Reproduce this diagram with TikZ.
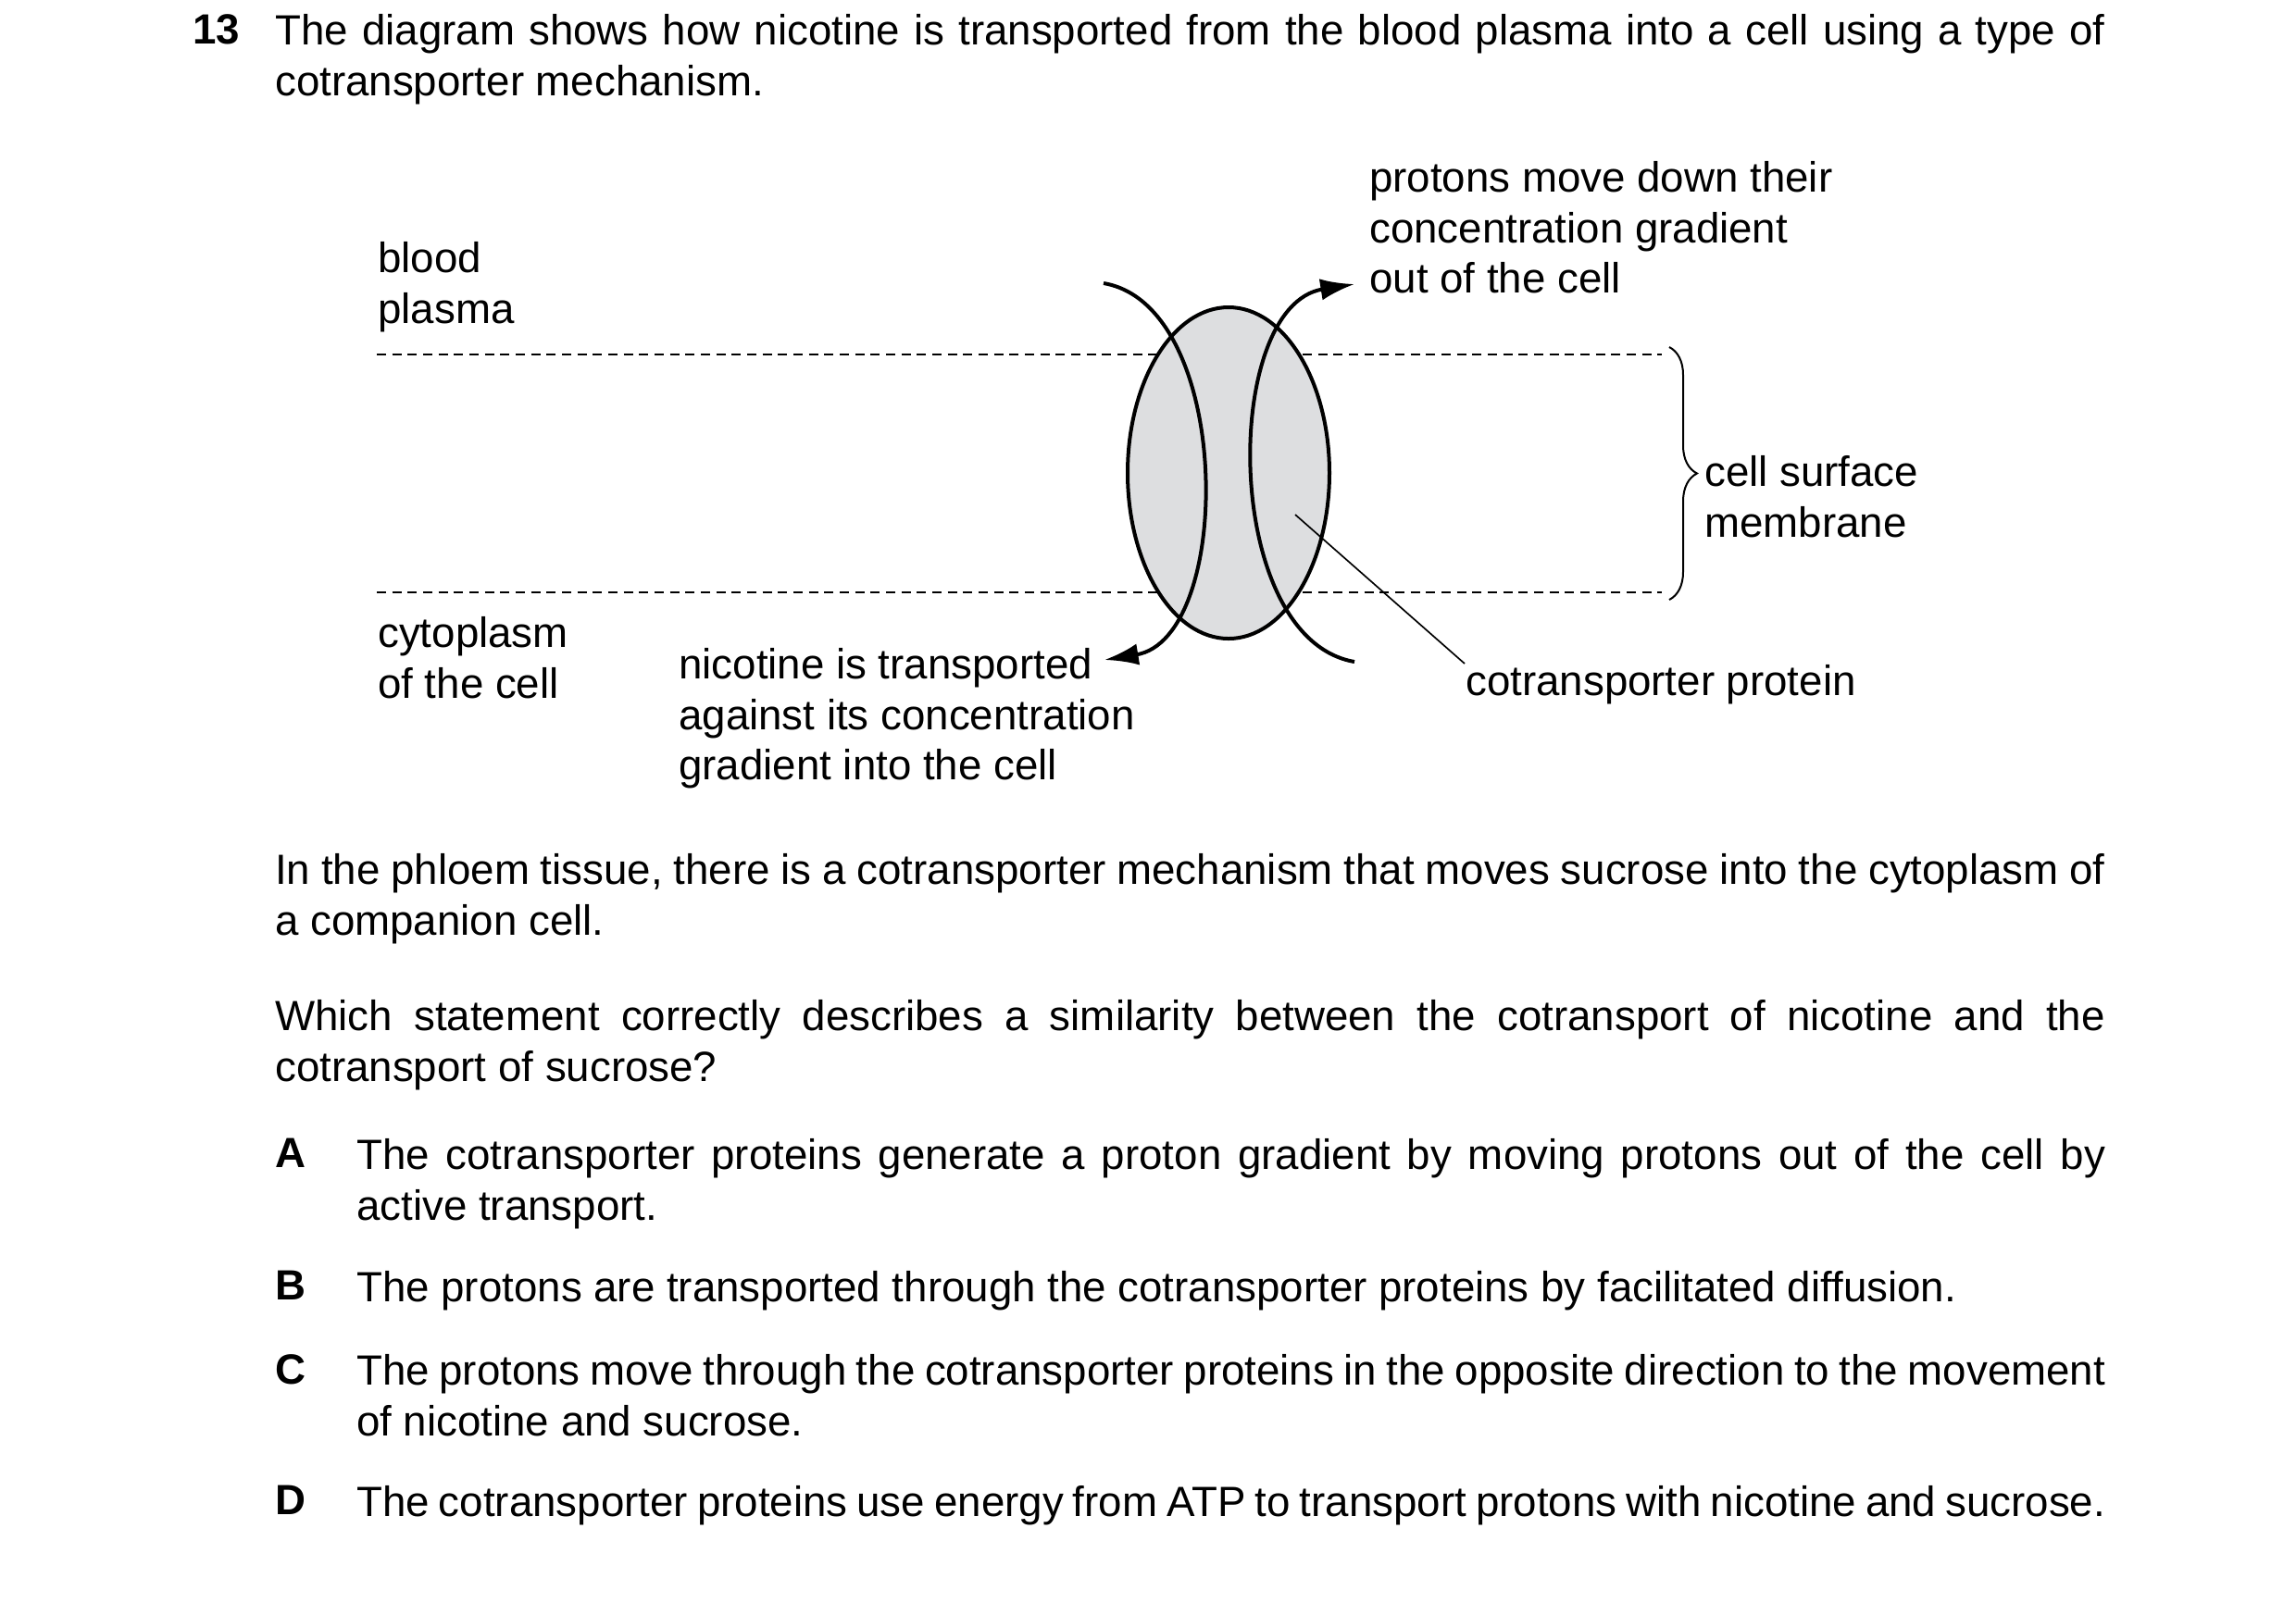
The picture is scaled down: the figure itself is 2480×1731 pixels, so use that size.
\documentclass[tikz,border=0pt]{standalone}
\usepackage{fontspec}
\setmainfont{Liberation Sans}
\usetikzlibrary{arrows.meta,decorations.pathreplacing}
\tikzset{every picture/.style={line width=0.75pt}}
\tikzset{
  txt/.style={anchor=north west,inner sep=0pt,font=\fontsize{13.7}{16.4}\selectfont,align=left},
  para/.style={txt,align=justify,text width=#1},
  flow/.style={line width=1.2pt,-{Latex[length=11pt,width=7pt]}},
  memb/.style={line width=0.6pt,dash pattern=on 3pt off 2pt}
}
\begin{document}
\hyphenpenalty=10000
\begin{tikzpicture}[x=0.3pt,y=0.3pt,yscale=-1,xscale=1]
\useasboundingbox (0,0) rectangle (2480,1731);

% question text
\node[txt,font=\fontsize{13.7}{16.4}\selectfont\bfseries] (qn) at (207,14) {13};
\node[para=593pt] (intro) at (296,14) {The diagram shows how nicotine is transported from the blood plasma into a cell using a type of cotransporter mechanism.};

%Dashed membrane edges
\draw[memb] (407,383) -- (1795,383);
\draw[memb] (407,640) -- (1795,640);
%Shape: Ellipse
\draw[line width=1.2pt,fill={rgb,255:red,221;green,222;blue,224}] (1327,511) ellipse (109 and 179);
%Curve Lines
\draw[flow] (1192,306) .. controls (1333,330) and (1333,690) .. (1193,713);
\draw[flow] (1463,715) .. controls (1319,690) and (1319,330) .. (1463,307);
%Brace
\draw[line width=0.6pt,decorate,decoration={brace,amplitude=9}] (1803,375) -- (1803,648);

% Text Node
\node[txt] (plasma) at (407,260) {blood\\plasma};
\node[txt] (protons) at (1478,173) {protons move down their\\concentration gradient\\out of the cell};
\node[txt] (membrane) at (1840,491) {cell surface\\membrane};
\node[txt] (cyto) at (407,665) {cytoplasm\\of the cell};
\node[txt] (nicotine) at (732,699) {nicotine is transported\\against its concentration\\gradient into the cell};
\node[txt] (protein) at (1582,717) {cotransporter protein};
\coordinate (inside) at (1399,556);
\draw[line width=0.5pt] (inside) -- (protein.north west);

% questions
\node[para=593pt] (phloem) at (296,921) {In the phloem tissue, there is a cotransporter mechanism that moves sucrose into the cytoplasm of a companion cell.};
\node[para=593pt] (which) at (296,1079) {Which statement correctly describes a similarity between the cotransport of nicotine and the cotransport of sucrose?};
\foreach \l/\y/\t in {A/1229/{The cotransporter proteins generate a proton gradient by moving protons out of the cell by active transport.},
  B/1372/{The protons are transported through the cotransporter proteins by facilitated diffusion.},
  C/1462/{The protons move through the cotransporter proteins in the opposite direction to the movement of nicotine and sucrose.},
  D/1604/{The cotransporter proteins use energy from ATP to transport protons with nicotine and sucrose.}}{
  \node[txt,font=\fontsize{13.7}{16.4}\selectfont\bfseries] (key\l) at (296,\y) {\l};
  \node[para=566.7pt] (opt\l) at (384,\y) {\t};
}
\end{tikzpicture}
\end{document}
